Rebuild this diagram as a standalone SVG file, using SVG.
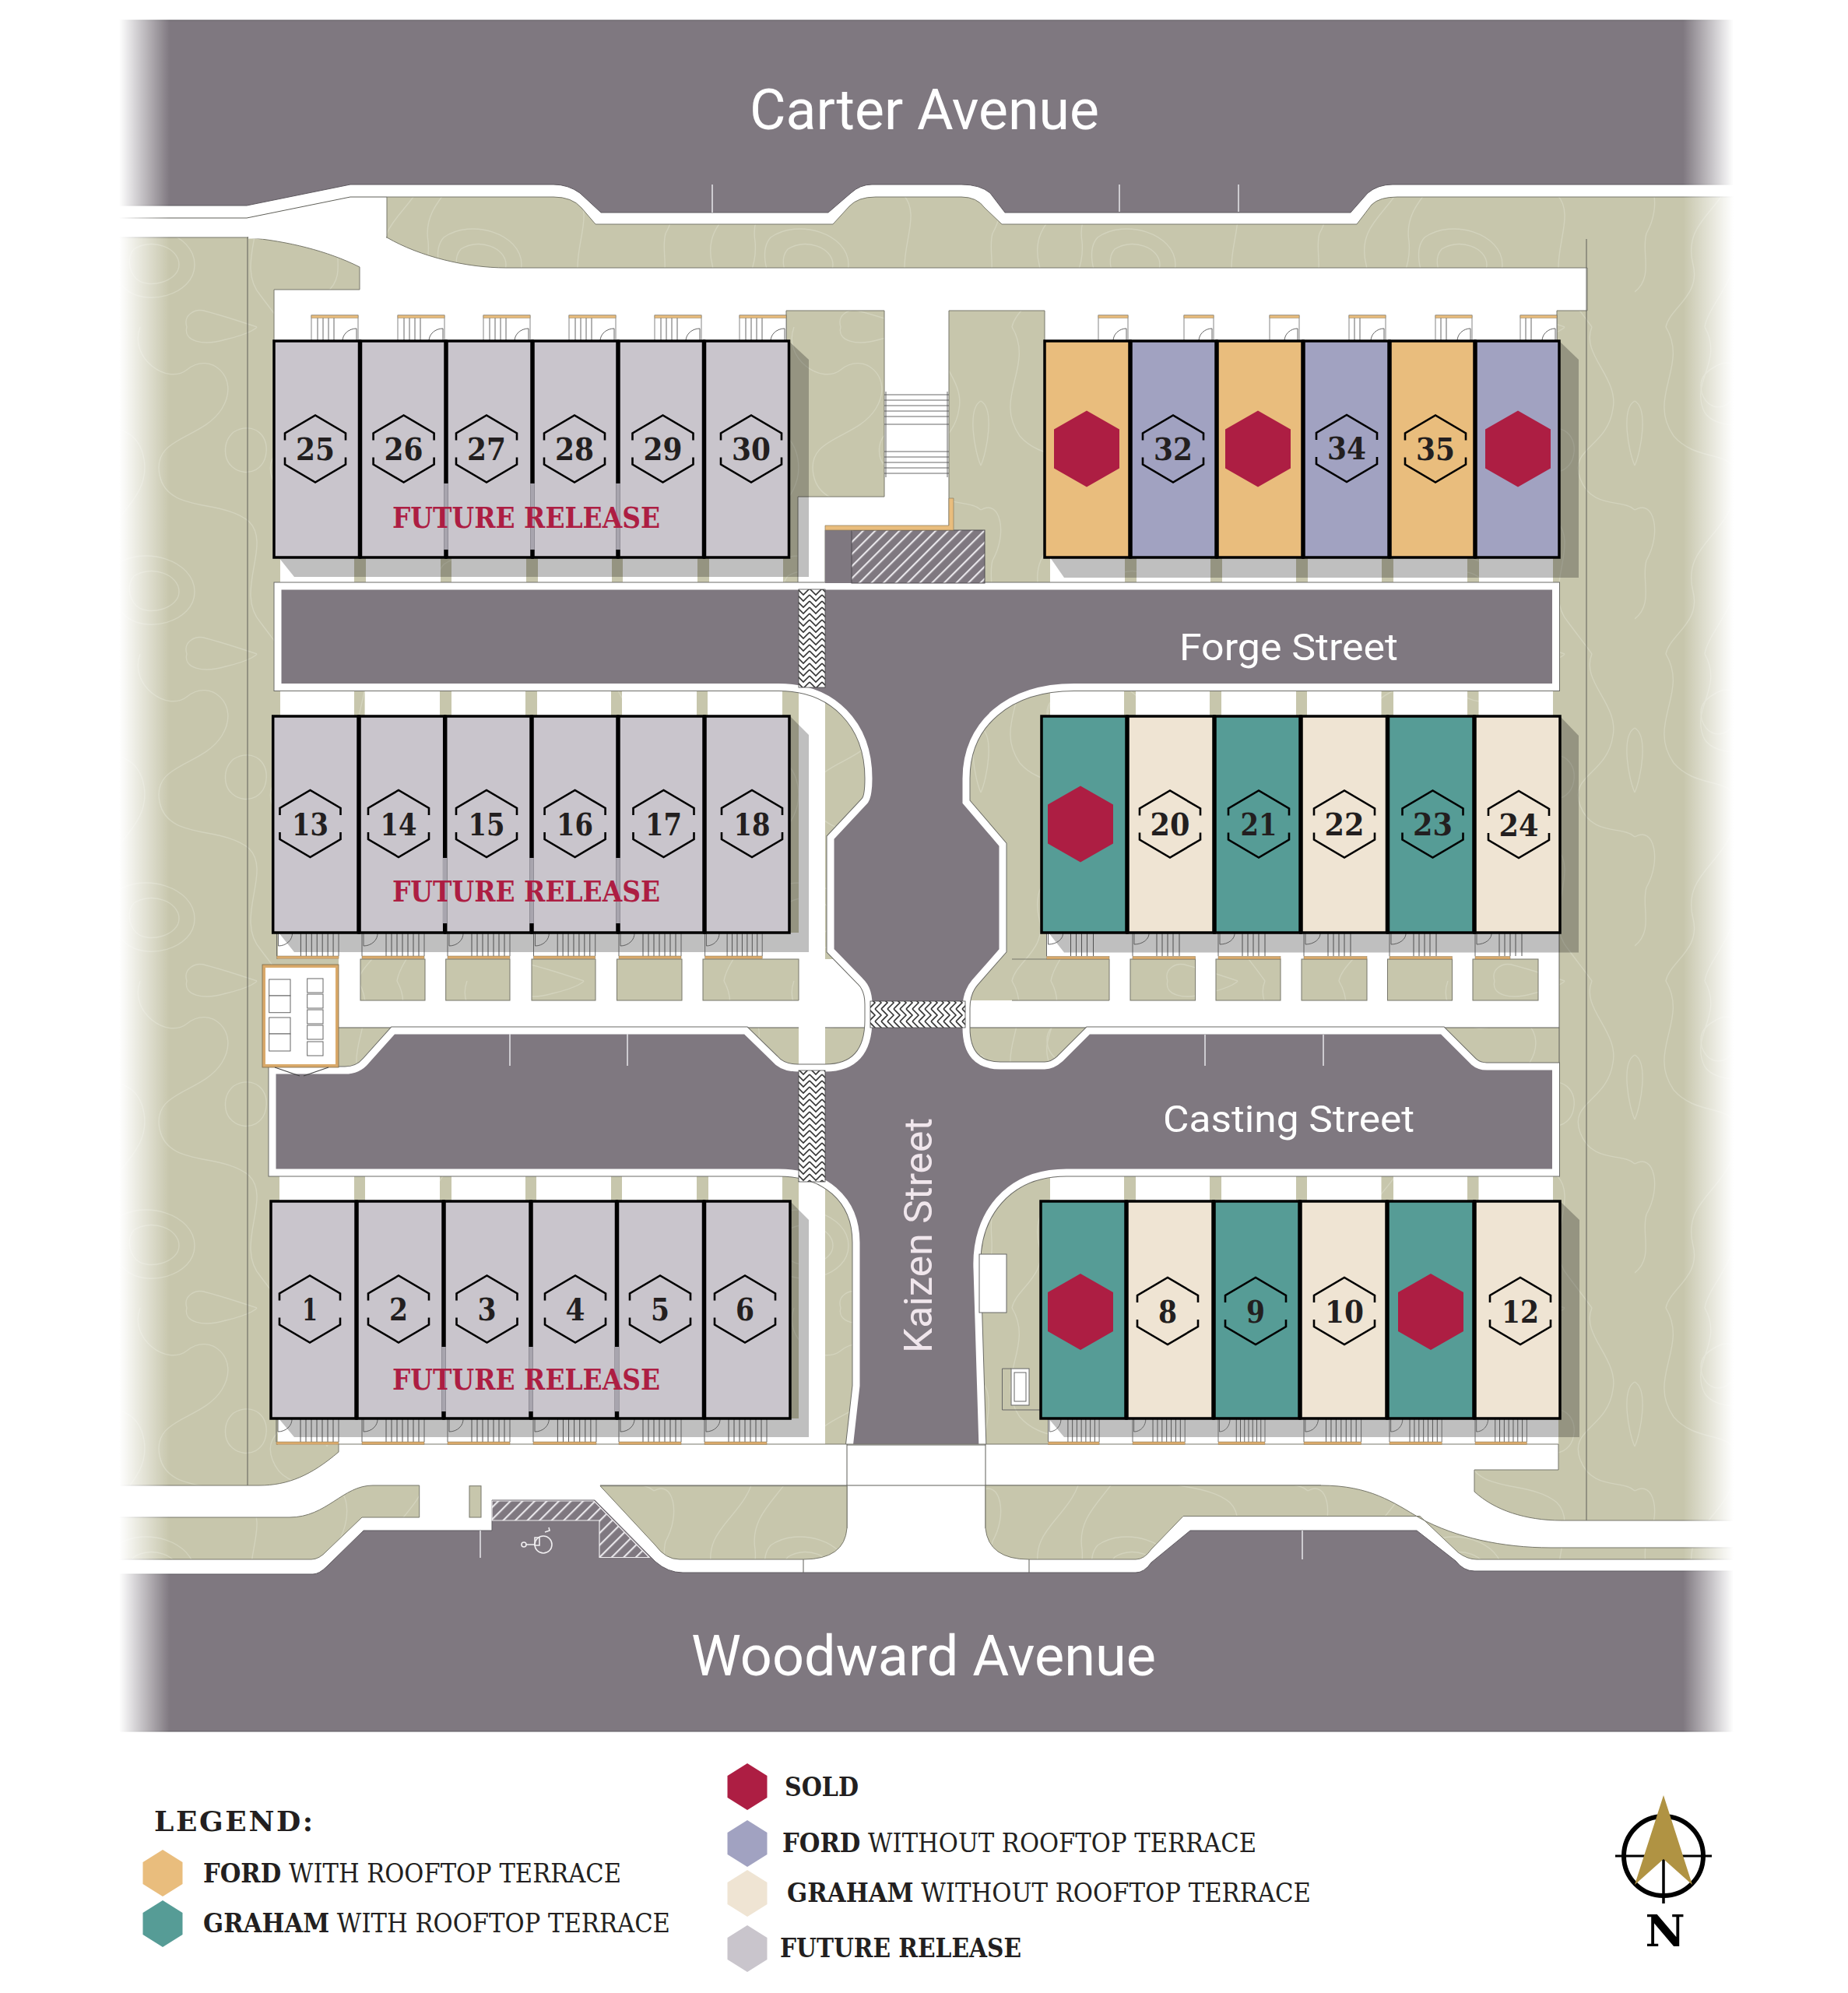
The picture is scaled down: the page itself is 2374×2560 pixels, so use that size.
<svg xmlns="http://www.w3.org/2000/svg" width="2374" height="2560" viewBox="0 0 2374 2560">
<style>
.g{fill:url(#topo);stroke:#77776a;stroke-width:1}
.w{fill:#fff;stroke:none}
.wl{fill:#fff;stroke:#77776a;stroke-width:1}
.thin{fill:none;stroke:#5f5f58;stroke-width:1}
.tick{stroke:#e8e6ea;stroke-width:1.5;fill:none}
.road{fill:#7f7880}
.sh{fill:#000;opacity:.25}
.u{stroke:#000;stroke-width:3.5}
.fu{fill:#c9c5cc}.or{fill:#e9bd7d}.la{fill:#a1a2c1}.te{fill:#569c96}.cr{fill:#efe4d3}
.hx{fill:none;stroke:#000;stroke-width:2.6}
.sold{fill:#ad1e43}
.n{font-family:"DejaVu Serif",serif;font-weight:700;font-size:39px;fill:#231f20;text-anchor:middle}
.fr{font-family:"DejaVu Serif",serif;font-weight:700;font-size:37px;fill:#ad1e43}
.st{font-family:Roboto,"Liberation Sans",sans-serif;fill:#fff}
.lg{font-family:"DejaVu Serif",serif;font-size:34px;fill:#231f20}
.lg tspan{font-weight:700}
.div{fill:#a8a5ae}
</style>
<defs>
<pattern id="topo" patternUnits="userSpaceOnUse" width="420" height="420">
<rect width="420" height="420" fill="#c7c6ac"/>
<g fill="none" stroke="#d3d3bd" stroke-width="1.4">
<path d="M40,0C70,50 15,90 50,140C85,180 140,150 130,210C120,270 60,280 75,340C85,380 45,395 40,420"/>
<path d="M90,0C115,45 70,70 90,110C110,140 175,110 185,170C195,230 120,250 130,310C135,360 95,390 90,420"/>
<path d="M180,0C165,40 215,75 240,55C270,30 310,65 285,105C260,145 195,140 205,190C215,240 285,220 320,250C350,280 300,340 335,380C350,400 358,410 365,420"/>
<path d="M365,0C350,35 400,65 392,105C385,155 335,155 350,195C365,235 405,220 420,235"/>
<path d="M0,235C25,220 35,265 15,300C8,325 25,355 0,375"/>
<path d="M105,50C130,35 145,65 128,90C110,115 85,100 85,75C85,62 95,55 105,50Z"/>
<path d="M150,305C185,280 250,300 250,340C250,380 185,395 160,370C140,352 138,318 150,305Z"/>
<path d="M172,320C195,305 230,318 230,340C230,362 190,372 175,358C165,348 163,330 172,320Z"/>
<path d="M240,0C235,18 260,25 290,16C325,8 330,0 330,0"/>
<path d="M240,420C235,405 250,395 265,400C285,405 300,410 330,420"/>
<path d="M0,95C18,105 8,160 0,178"/>
<path d="M420,95C402,105 412,160 420,178"/>
<path d="M300,135C325,120 350,140 340,170C330,195 295,190 290,165C288,152 292,142 300,135Z"/>
</g>
</pattern>
<pattern id="hatch" patternUnits="userSpaceOnUse" width="11" height="11" patternTransform="rotate(45)">
<rect width="11" height="11" fill="#7f7880"/><rect width="2.2" height="11" fill="#e8e6ea"/>
</pattern>
<pattern id="hb" patternUnits="userSpaceOnUse" width="16" height="16">
<rect width="16" height="16" fill="#fff"/>
<path d="M0,4L8,12L16,4M0,12L8,20L16,12M0,-4L8,4L16,-4" fill="none" stroke="#333" stroke-width="1.6"/>
</pattern>
<pattern id="hb2" patternUnits="userSpaceOnUse" width="16" height="16">
<rect width="16" height="16" fill="#fff"/>
<path d="M4,0L12,8L4,16M12,0L20,8L12,16M-4,0L4,8L-4,16" fill="none" stroke="#333" stroke-width="1.6"/>
</pattern>
<linearGradient id="fl"><stop offset="0" stop-color="#fff"/><stop offset=".1" stop-color="#fff"/><stop offset=".5" stop-color="#fff" stop-opacity=".55"/><stop offset="1" stop-color="#fff" stop-opacity="0"/></linearGradient>
<linearGradient id="fr"><stop offset="0" stop-color="#fff" stop-opacity="0"/><stop offset=".5" stop-color="#fff" stop-opacity=".55"/><stop offset=".9" stop-color="#fff"/><stop offset="1" stop-color="#fff"/></linearGradient>
<g id="hex"><path class="hx" d="M-39,-11V-20L0,-43L39,-20V-11M-39,11V20L0,43L39,20V11"/></g>
<polygon id="hs" class="sold" points="0,-49 42,-25 42,25 0,49 -42,25 -42,-25"/>
<polygon id="lh" points="0,-30 25.5,-14 25.5,14 0,30 -25.5,14 -25.5,-14"/>
<g id="dt">
<rect width="60" height="33" fill="#fff" stroke="#666" stroke-width=".8"/>
<rect width="60" height="3.5" fill="#e9bd7d" stroke="#8a7a5a" stroke-width=".5"/>
<path d="M8,3.5V33M15,3.5V33M22,3.5V33M29,3.5V33M58,33V17A18,16 0 0 0 40,33" fill="none" stroke="#555" stroke-width=".9"/>
</g>
<g id="ds">
<rect width="38" height="33" fill="#fff" stroke="#666" stroke-width=".8"/>
<rect width="38" height="3.5" fill="#e9bd7d" stroke="#8a7a5a" stroke-width=".5"/>
<path d="M36,33V17A17,16 0 0 0 19,33" fill="none" stroke="#555" stroke-width=".9"/>
</g>
<g id="dm">
<rect width="47" height="33" fill="#fff" stroke="#666" stroke-width=".8"/>
<rect width="47" height="3.5" fill="#e9bd7d" stroke="#8a7a5a" stroke-width=".5"/>
<path d="M7,3.5V33M14,3.5V33M45,33V17A17,16 0 0 0 28,33" fill="none" stroke="#555" stroke-width=".9"/>
</g>
<g id="db">
<path d="M0,0V30M80,0V30M2,0V17A18,16 0 0 0 20,0" fill="none" stroke="#555" stroke-width=".9"/>
<path d="M31,0V30M38,0V30M45,0V30M52,0V30M59,0V30M66,0V30M73,0V30" fill="none" stroke="#444" stroke-width=".9"/>
<rect y="30" width="80" height="3.5" fill="#d9a96a" stroke="#8a7a5a" stroke-width=".5"/>
</g>
<g id="dr">
<path d="M0,0V30M2,0V15A19,14 0 0 0 21,0" fill="none" stroke="#555" stroke-width=".9"/>
<path d="M31,0V30M38,0V30M45,0V30M52,0V30M60,0V30" fill="none" stroke="#444" stroke-width=".9"/>
</g>
</defs>

<rect width="2374" height="2560" fill="#fff"/>

<g id="site-ground">
<rect x="150" y="253" width="2078" height="1760" fill="url(#topo)"/>
<path class="wl" d="M150,200H2228V253H1795Q1772,253 1762,263L1743,288H1287L1265,267Q1255,253 1235,253H1125Q1102,253 1091,265L1070,288H765L747,267Q735,253 711,253H497V305H150Z"/>
<path class="thin" d="M150,280H317L450,253H497"/>
<path class="wl" d="M318,305H497C540,330 600,344 650,344H2039V399H2000V716H1342V399H1219V681H1060V749H1025V638H1136V399H1010V716H352V372H462V343C420,322 370,310 318,305Z"/>
<path d="M319,305H496" stroke="#fff" stroke-width="3" fill="none"/>
<path class="thin" d="M318,305V1908M2038,307V1953"/>
</g>

<g id="walks">
<g class="w">
<rect x="360" y="716" width="95" height="34"/><rect x="470" y="716" width="96" height="34"/><rect x="580" y="716" width="96" height="34"/><rect x="691" y="716" width="95" height="34"/><rect x="800" y="716" width="96" height="34"/><rect x="911" y="716" width="95" height="34"/>
<rect x="1349" y="716" width="96" height="34"/><rect x="1460" y="716" width="95" height="34"/><rect x="1570" y="716" width="95" height="34"/><rect x="1680" y="716" width="95" height="34"/><rect x="1790" y="716" width="95" height="34"/><rect x="1900" y="716" width="95" height="34"/>
<rect x="360" y="880" width="95" height="40"/><rect x="468.6" y="880" width="96.4" height="40"/><rect x="580" y="880" width="95" height="40"/><rect x="690" y="880" width="95" height="40"/><rect x="799" y="880" width="96" height="40"/><rect x="909" y="880" width="96" height="40"/>
<rect x="1349" y="880" width="95" height="40"/><rect x="1459" y="880" width="95" height="40"/><rect x="1569" y="880" width="96" height="40"/><rect x="1679" y="880" width="95.5" height="40"/><rect x="1790" y="880" width="95" height="40"/><rect x="1899.5" y="880" width="95.5" height="40"/>
<rect x="359" y="1505" width="96" height="40"/><rect x="469" y="1505" width="96" height="40"/><rect x="580" y="1505" width="95" height="40"/><rect x="689" y="1505" width="96" height="40"/><rect x="799" y="1505" width="96" height="40"/><rect x="910" y="1505" width="95" height="40"/>
<rect x="1349" y="1505" width="95" height="40"/><rect x="1459" y="1505" width="95" height="40"/><rect x="1569" y="1505" width="96" height="40"/><rect x="1679" y="1505" width="95.5" height="40"/><rect x="1790" y="1505" width="95" height="40"/><rect x="1899.5" y="1505" width="95.5" height="40"/>
<rect x="1026" y="749" width="34" height="1110"/>
<rect x="357" y="1198" width="703" height="34"/>
<rect x="435" y="1232" width="680" height="88"/>
<rect x="1344" y="1198" width="659" height="122"/>
<rect x="1240" y="1285" width="110" height="35"/>
<rect x="357" y="1822" width="703" height="34"/>
<rect x="1346" y="1822" width="656" height="34"/>
</g>
<g class="g">
<rect x="463" y="1232" width="83" height="53"/><rect x="572.7" y="1232" width="82.3" height="53"/><rect x="683" y="1232" width="82" height="53"/><rect x="792.5" y="1232" width="83.5" height="53"/><rect x="903" y="1232" width="123" height="53"/>
<path d="M1300,1232H1425V1285H1300" /><rect x="1452" y="1232" width="83.6" height="53"/><rect x="1562" y="1232" width="83" height="53"/><rect x="1672" y="1232" width="84" height="53"/><rect x="1782.5" y="1232" width="83" height="53"/><rect x="1892" y="1232" width="84" height="53"/>
</g>
<rect x="1026" y="1285" width="34" height="35" fill="#fff"/>
<path class="thin" d="M435,1320H1026M1060,1320H1115M1240,1320H2003V1365M2003,1320V1198"/>
</g>

<g id="roads">
<path id="roadnet" d="M357,753H1998.5V882.5H1380C1295,882.5 1241,930 1241,1000V1030L1288,1085V1221L1252,1262Q1241,1275 1241,1295V1320Q1241,1369 1285,1369H1342Q1352,1369 1362,1360L1398,1324H1853L1893,1364Q1900,1370 1910,1370H1998.5V1506H1370C1295,1506 1252,1560 1255,1630L1262,1860H1091L1100,1780V1596C1100,1540 1060,1506 1000,1506H350V1375H443Q460,1375 470,1363L505,1324H958L995,1360Q1005,1372 1025,1372H1060Q1116,1372 1116,1310V1290Q1116,1270 1105,1260L1067,1221V1076L1110,1030Q1116,1025 1116,1000C1116,930 1070,882.5 1000,882.5H357Z" fill="none" stroke="#6b6b66" stroke-width="11"/>
<path d="M357,753H1998.5V882.5H1380C1295,882.5 1241,930 1241,1000V1030L1288,1085V1221L1252,1262Q1241,1275 1241,1295V1320Q1241,1369 1285,1369H1342Q1352,1369 1362,1360L1398,1324H1853L1893,1364Q1900,1370 1910,1370H1998.5V1506H1370C1295,1506 1252,1560 1255,1630L1262,1860H1091L1100,1780V1596C1100,1540 1060,1506 1000,1506H350V1375H443Q460,1375 470,1363L505,1324H958L995,1360Q1005,1372 1025,1372H1060Q1116,1372 1116,1310V1290Q1116,1270 1105,1260L1067,1221V1076L1110,1030Q1116,1025 1116,1000C1116,930 1070,882.5 1000,882.5H357Z" class="road" stroke="#fff" stroke-width="9"/>
<rect x="1026" y="757" width="34" height="126" fill="url(#hb)" stroke="#444" stroke-width=".8"/>
<rect x="1026" y="1375" width="34" height="143" fill="url(#hb)" stroke="#444" stroke-width=".8"/>
<rect x="1118" y="1286" width="122" height="34" fill="url(#hb2)" stroke="#444" stroke-width=".8"/>
<path class="wl" d="M435,1855H2002V1888H1894V1916C1920,1940 1960,1953 2006,1953H2228V2030H150V1908H333C370,1908 400,1895 435,1865Z"/>
<path class="thin" d="M1088,1855V1963M1266,1855V1963M771,1908H1697M1088,1856H1266M1032,2003V2022M1322,2003V2022"/>
<g class="g">
<path d="M150,1949H372C420,1949 440,1908 479,1908H538.7V1949H465L420,1992Q410,2003 400,2003H150Z"/>
<rect x="603" y="1908.7" width="15" height="40.3"/>
<path d="M771,1908.7H1088V1963Q1085,2003 1032,2003H873Q855,2003 842,1985Z"/>
<path d="M1266,1908H1697C1760,1908 1790,1930 1824,1950C1870,1975 1930,1988 1992,1988H2228V2003H1897Q1885,2003 1873,1994L1824,1947.5H1520L1479,1990Q1470,2003 1459,2003H1322Q1270,2003 1266,1963Z"/>
</g>
<path class="road" stroke="#5f5a60" stroke-width="1" d="M150,26H2228V237H1789Q1770,237 1757,248L1735,273H1291L1272,248Q1259,237 1235,237H1120Q1105,237 1093,248L1064,273H772L745,248Q730,237 711,237H450L317,264H150Z"/>
<path class="road" stroke="#5f5a60" stroke-width="1" d="M150,2224H2228V2018H1894Q1880,2018 1870,2005L1820,1966H1529L1479,2007Q1470,2020 1459,2020H877Q858,2020 842,2006L764,1927H632V1966H467L420,2012Q410,2022 402,2022H150Z"/>
<path d="M632,1928H763L834,2000.5H770V1953H632Z" fill="url(#hatch)" stroke="#f0eef0" stroke-width="1.2"/>
<path class="tick" d="M915,237V273M1438,237V272M1591,237V272M1673,1966V2003M617,1966V2001M655,1328V1369M806,1328V1369M1548,1329V1369M1700,1329V1369"/>
<g id="accessible-symbol" fill="none" stroke="#f0eef0" stroke-width="1.6"><circle cx="698" cy="1984" r="11"/><circle cx="673" cy="1984" r="3"/><path d="M676,1984H687M687,1975h6v10h-6zM700,1968L706,1966L705,1962"/></g>
</g>

<g id="stair-court">
<rect x="1060" y="681" width="34" height="68" fill="#7f7880"/>
<rect x="1094" y="681" width="171" height="68" fill="url(#hatch)" stroke="#4f4b50" stroke-width="1"/>
<polygon points="1060,675 1219,675 1219,640 1225,640 1225,681 1060,681" fill="#e9bd7d" stroke="#8a7a5a" stroke-width=".7"/>
<path d="M1138,503V613M1217,503V613M1136,507H1219M1136,514H1219M1136,521H1219M1136,528H1219M1136,535H1219M1136,545H1219M1136,580H1219M1136,587H1219M1136,594H1219M1136,601H1219M1136,608H1219" fill="none" stroke="#555" stroke-width=".9"/>
</g>

<g id="shadows" class="sh">
<polygon points="1013,438 1039,462 1039,741 378,741 358,716"/>
<polygon points="2003,438 2028,462 2028,742 1367,742 1349,716"/>
<polygon points="1015,920 1039,944 1039,1223 378,1223 358,1198"/>
<polygon points="2004,920 2028,945 2028,1223.5 1367,1223.5 1347,1198"/>
<polygon points="1015,1543 1039,1567 1039,1846 378,1846 358,1822"/>
<polygon points="2004,1543 2029,1567 2029,1846 1367,1846 1347,1822"/>
</g>

<g id="decks">
<use href="#dt" x="400" y="405"/><use href="#dt" x="511" y="405"/><use href="#dt" x="621" y="405"/><use href="#dt" x="731" y="405"/><use href="#dt" x="841" y="405"/><use href="#dt" x="950" y="405"/>
<use href="#ds" x="1411" y="405"/><use href="#ds" x="1521" y="405"/><use href="#ds" x="1631" y="405"/><use href="#dm" x="1733" y="405"/><use href="#dm" x="1844" y="405"/><use href="#dm" x="1953" y="405"/>
<use href="#db" transform="translate(355.6,1198)scale(.993,1)"/><use href="#db" transform="translate(465,1198)"/><use href="#db" transform="translate(575,1198)"/><use href="#db" transform="translate(685.5,1198)scale(.99,1)"/><use href="#db" transform="translate(795,1198)"/><use href="#db" transform="translate(905.6,1198)scale(.92,1)"/>
<use href="#dr" x="1344.5" y="1198"/><use href="#dr" x="1455" y="1198"/><use href="#dr" x="1565" y="1198"/><use href="#dr" x="1675" y="1198"/><use href="#dr" x="1785" y="1198"/><use href="#dr" x="1895" y="1198"/>
<g fill="#d9a96a" stroke="#8a7a5a" stroke-width=".5"><rect x="1344.5" y="1228.5" width="80.5" height="3.5"/><rect x="1455" y="1228.5" width="80.6" height="3.5"/><rect x="1565" y="1228.5" width="80" height="3.5"/><rect x="1675" y="1228.5" width="81" height="3.5"/><rect x="1785" y="1228.5" width="80.5" height="3.5"/><rect x="1895" y="1228.5" width="45" height="3.5"/></g>
<use href="#db" transform="translate(355,1822)"/><use href="#db" transform="translate(465,1822)"/><use href="#db" transform="translate(575,1822)"/><use href="#db" transform="translate(685,1822)scale(1.012,1)"/><use href="#db" transform="translate(795,1822)"/><use href="#db" transform="translate(905,1822)"/>
<use href="#db" transform="translate(1346.5,1822)scale(.82,1)"/><use href="#db" transform="translate(1455,1822)scale(.84,1)"/><use href="#db" transform="translate(1565,1822)scale(.75,1)"/><use href="#db" transform="translate(1675,1822)scale(.92,1)"/><use href="#db" transform="translate(1785,1822)scale(.84,1)"/><use href="#db" transform="translate(1895,1822)scale(.83,1)"/>
</g>

<g id="trash-enclosure">
<rect x="339" y="1241" width="94" height="128" fill="#fff" stroke="#d9a96a" stroke-width="4"/>
<rect x="337" y="1239" width="98" height="132" fill="none" stroke="#7a6a4a" stroke-width=".8"/>
<path d="M353,1371L385,1382M422,1371L390,1382" stroke="#444" stroke-width="1.2" fill="none"/>
<g fill="#fff" stroke="#666" stroke-width="1"><rect x="345.7" y="1258" width="27.3" height="21"/><rect x="345.7" y="1279" width="27.3" height="21.7"/><rect x="345.7" y="1307" width="27.3" height="21"/><rect x="345.7" y="1328" width="27.3" height="22"/>
<rect x="394.7" y="1257" width="20.3" height="18"/><rect x="394.7" y="1277" width="20.3" height="18"/><rect x="394.7" y="1297" width="20.3" height="18"/><rect x="394.7" y="1317" width="20.3" height="18"/><rect x="394.7" y="1338" width="20.3" height="18"/></g>
</g>

<g id="utility-pads" fill="#fff" stroke="#666" stroke-width="1">
<rect x="1258" y="1611" width="35" height="75"/>
<path d="M1336,1811H1287.5V1758H1299" fill="none"/>
<rect x="1299" y="1758" width="23" height="47"/><rect x="1303" y="1763" width="15" height="37"/>
</g>

<g id="units">
<g id="unit-25"><rect class="u fu" x="352" y="438" width="110.5" height="278"/><use href="#hex" x="405" y="576.5"/><text class="n" x="405" y="591" textLength="50" lengthAdjust="spacingAndGlyphs">25</text></g>
<g id="unit-26"><rect class="u fu" x="462.5" y="438" width="110.5" height="278"/><use href="#hex" x="518.6" y="576.5"/><text class="n" x="518.6" y="591" textLength="50" lengthAdjust="spacingAndGlyphs">26</text></g>
<g id="unit-27"><rect class="u fu" x="573" y="438" width="111" height="278"/><use href="#hex" x="625" y="576.5"/><text class="n" x="625" y="591" textLength="50" lengthAdjust="spacingAndGlyphs">27</text></g>
<g id="unit-28"><rect class="u fu" x="684" y="438" width="110" height="278"/><use href="#hex" x="738" y="576.5"/><text class="n" x="738" y="591" textLength="50" lengthAdjust="spacingAndGlyphs">28</text></g>
<g id="unit-29"><rect class="u fu" x="794" y="438" width="110.5" height="278"/><use href="#hex" x="851.5" y="576.5"/><text class="n" x="851.5" y="591" textLength="50" lengthAdjust="spacingAndGlyphs">29</text></g>
<g id="unit-30"><rect class="u fu" x="904.5" y="438" width="109" height="278"/><use href="#hex" x="965" y="576.5"/><text class="n" x="965" y="591" textLength="50" lengthAdjust="spacingAndGlyphs">30</text></g>

<g id="unit-31"><rect class="u or" x="1342" y="438" width="110" height="278"/><use href="#hs" x="1396" y="576.5"/></g>
<g id="unit-32"><rect class="u la" x="1452" y="438" width="111" height="278"/><use href="#hex" x="1507" y="576.5"/><text class="n" x="1507" y="591" textLength="50" lengthAdjust="spacingAndGlyphs">32</text></g>
<g id="unit-33"><rect class="u or" x="1563" y="438" width="111" height="278"/><use href="#hs" x="1616" y="576.5"/></g>
<g id="unit-34"><rect class="u la" x="1674" y="438" width="111" height="278"/><use href="#hex" x="1730" y="576"/><text class="n" x="1730" y="590" textLength="50" lengthAdjust="spacingAndGlyphs">34</text></g>
<g id="unit-35"><rect class="u or" x="1785" y="438" width="110" height="278"/><use href="#hex" x="1844" y="576.5"/><text class="n" x="1844" y="591" textLength="50" lengthAdjust="spacingAndGlyphs">35</text></g>
<g id="unit-36"><rect class="u la" x="1895" y="438" width="108" height="278"/><use href="#hs" x="1950" y="576.5"/></g>

<g id="unit-13"><rect class="u fu" x="350.7" y="920" width="110.3" height="278"/><use href="#hex" x="398.5" y="1058"/><text class="n" x="398.5" y="1072.5" textLength="47" lengthAdjust="spacingAndGlyphs">13</text></g>
<g id="unit-14"><rect class="u fu" x="461" y="920" width="110.7" height="278"/><use href="#hex" x="512" y="1058"/><text class="n" x="512" y="1072.5" textLength="47" lengthAdjust="spacingAndGlyphs">14</text></g>
<g id="unit-15"><rect class="u fu" x="571.7" y="920" width="111.3" height="278"/><use href="#hex" x="625" y="1058"/><text class="n" x="625" y="1072.5" textLength="47" lengthAdjust="spacingAndGlyphs">15</text></g>
<g id="unit-16"><rect class="u fu" x="683" y="920" width="111" height="278"/><use href="#hex" x="738.6" y="1058"/><text class="n" x="738.6" y="1072.5" textLength="47" lengthAdjust="spacingAndGlyphs">16</text></g>
<g id="unit-17"><rect class="u fu" x="794" y="920" width="111" height="278"/><use href="#hex" x="852.5" y="1058"/><text class="n" x="852.5" y="1072.5" textLength="47" lengthAdjust="spacingAndGlyphs">17</text></g>
<g id="unit-18"><rect class="u fu" x="905" y="920" width="109" height="278"/><use href="#hex" x="966" y="1058"/><text class="n" x="966" y="1072.5" textLength="47" lengthAdjust="spacingAndGlyphs">18</text></g>

<g id="unit-19"><rect class="u te" x="1338" y="920" width="110" height="278"/><use href="#hs" x="1388" y="1058.5"/></g>
<g id="unit-20"><rect class="u cr" x="1448" y="920" width="112" height="278"/><use href="#hex" x="1503" y="1058.5"/><text class="n" x="1503" y="1073" textLength="51" lengthAdjust="spacingAndGlyphs">20</text></g>
<g id="unit-21"><rect class="u te" x="1560" y="920" width="111" height="278"/><use href="#hex" x="1617" y="1058.5"/><text class="n" x="1617" y="1073" textLength="47" lengthAdjust="spacingAndGlyphs">21</text></g>
<g id="unit-22"><rect class="u cr" x="1671" y="920" width="111.5" height="278"/><use href="#hex" x="1727" y="1058.5"/><text class="n" x="1727" y="1073" textLength="51" lengthAdjust="spacingAndGlyphs">22</text></g>
<g id="unit-23"><rect class="u te" x="1782.5" y="920" width="111.5" height="278"/><use href="#hex" x="1840.5" y="1058.5"/><text class="n" x="1840.5" y="1073" textLength="51" lengthAdjust="spacingAndGlyphs">23</text></g>
<g id="unit-24"><rect class="u cr" x="1894" y="920" width="110" height="278"/><use href="#hex" x="1951" y="1059"/><text class="n" x="1951" y="1073.5" textLength="51" lengthAdjust="spacingAndGlyphs">24</text></g>

<g id="unit-1"><rect class="u fu" x="348" y="1543" width="110" height="279"/><use href="#hex" x="398" y="1681.5"/><text class="n" x="398" y="1696" textLength="20" lengthAdjust="spacingAndGlyphs">1</text></g>
<g id="unit-2"><rect class="u fu" x="458" y="1543" width="112" height="279"/><use href="#hex" x="512" y="1681.5"/><text class="n" x="512" y="1696" textLength="24" lengthAdjust="spacingAndGlyphs">2</text></g>
<g id="unit-3"><rect class="u fu" x="570" y="1543" width="112" height="279"/><use href="#hex" x="625.5" y="1681.5"/><text class="n" x="625.5" y="1696" textLength="24" lengthAdjust="spacingAndGlyphs">3</text></g>
<g id="unit-4"><rect class="u fu" x="682" y="1543" width="110.5" height="279"/><use href="#hex" x="739" y="1681.5"/><text class="n" x="739" y="1696" textLength="25" lengthAdjust="spacingAndGlyphs">4</text></g>
<g id="unit-5"><rect class="u fu" x="792.5" y="1543" width="112" height="279"/><use href="#hex" x="848" y="1681.5"/><text class="n" x="848" y="1696" textLength="24" lengthAdjust="spacingAndGlyphs">5</text></g>
<g id="unit-6"><rect class="u fu" x="904.5" y="1543" width="110.5" height="279"/><use href="#hex" x="957" y="1681.5"/><text class="n" x="957" y="1696" textLength="24" lengthAdjust="spacingAndGlyphs">6</text></g>

<g id="unit-7"><rect class="u te" x="1337" y="1543" width="110" height="279"/><use href="#hs" x="1388" y="1685"/></g>
<g id="unit-8"><rect class="u cr" x="1447" y="1543" width="112" height="279"/><use href="#hex" x="1500" y="1684"/><text class="n" x="1500" y="1698.5" textLength="24" lengthAdjust="spacingAndGlyphs">8</text></g>
<g id="unit-9"><rect class="u te" x="1559" y="1543" width="111" height="279"/><use href="#hex" x="1613" y="1684"/><text class="n" x="1613" y="1698.5" textLength="24" lengthAdjust="spacingAndGlyphs">9</text></g>
<g id="unit-10"><rect class="u cr" x="1670" y="1543" width="112" height="279"/><use href="#hex" x="1727" y="1684"/><text class="n" x="1727" y="1698.5" textLength="50" lengthAdjust="spacingAndGlyphs">10</text></g>
<g id="unit-11"><rect class="u te" x="1782" y="1543" width="112" height="279"/><use href="#hs" x="1838" y="1685"/></g>
<g id="unit-12"><rect class="u cr" x="1894" y="1543" width="110" height="279"/><use href="#hex" x="1953" y="1684"/><text class="n" x="1953" y="1698.5" textLength="48" lengthAdjust="spacingAndGlyphs">12</text></g>
</g>

<g id="party-walls">
<path stroke="#000" stroke-width="5.5" fill="none" d="M462.5,438V716M573,438V716M684,438V716M794,438V716M904.5,438V716M1452,438V716M1563,438V716M1674,438V716M1785,438V716M1895,438V716M461,920V1198M571.7,920V1198M683,920V1198M794,920V1198M905,920V1198M1448,920V1198M1560,920V1198M1671,920V1198M1782.5,920V1198M1894,920V1198M458,1543V1822M570,1543V1822M682,1543V1822M792.5,1543V1822M904.5,1543V1822M1447,1543V1822M1559,1543V1822M1670,1543V1822M1782,1543V1822M1894,1543V1822"/>
</g>

<g id="future-release-labels">
<g class="div">
<rect x="570.2" y="621" width="5.6" height="85"/><rect x="681.2" y="621" width="5.6" height="85"/><rect x="791.2" y="621" width="5.6" height="85"/>
<rect x="568.9" y="1102" width="5.6" height="84"/><rect x="680.2" y="1102" width="5.6" height="84"/><rect x="791.2" y="1102" width="5.6" height="84"/>
<rect x="567.2" y="1730" width="5.6" height="83"/><rect x="679.2" y="1730" width="5.6" height="83"/><rect x="789.7" y="1730" width="5.6" height="83"/>
</g>
<text class="fr" x="504" y="678" textLength="344" lengthAdjust="spacingAndGlyphs">FUTURE RELEASE</text>
<text class="fr" x="504" y="1158" textLength="344" lengthAdjust="spacingAndGlyphs">FUTURE RELEASE</text>
<text class="fr" x="504" y="1785" textLength="344" lengthAdjust="spacingAndGlyphs">FUTURE RELEASE</text>
</g>

<g id="street-labels">
<text class="st" x="963" y="165.5" font-size="72" textLength="449" lengthAdjust="spacingAndGlyphs">Carter Avenue</text>
<text class="st" x="888" y="2152" font-size="72" textLength="597" lengthAdjust="spacingAndGlyphs">Woodward Avenue</text>
<text class="st" x="1515" y="848" font-size="48" textLength="281" lengthAdjust="spacingAndGlyphs">Forge Street</text>
<text class="st" x="1494" y="1453.5" font-size="48" textLength="323" lengthAdjust="spacingAndGlyphs">Casting Street</text>
<text class="st" font-size="50" textLength="302" lengthAdjust="spacingAndGlyphs" style="fill:#f0e6ec" transform="translate(1197,1738) rotate(-90)">Kaizen Street</text>
</g>

<g id="edge-fades">
<rect x="146" y="0" width="72" height="2240" fill="url(#fl)"/>
<rect x="2162" y="0" width="72" height="2240" fill="url(#fr)"/>
</g>

<g id="legend">
<text x="198" y="2352" font-family="DejaVu Serif,serif" font-weight="700" font-size="36" fill="#231f20" textLength="204" lengthAdjust="spacing">LEGEND:</text>
<g id="legend-ford-terrace"><use href="#lh" x="209" y="2406" fill="#e9bd7d"/><text class="lg" x="261" y="2418" textLength="537" lengthAdjust="spacingAndGlyphs"><tspan>FORD</tspan> WITH ROOFTOP TERRACE</text></g>
<g id="legend-graham-terrace"><use href="#lh" x="209" y="2471" fill="#569c96"/><text class="lg" x="261" y="2482" textLength="600" lengthAdjust="spacingAndGlyphs"><tspan>GRAHAM</tspan> WITH ROOFTOP TERRACE</text></g>
<g id="legend-sold"><use href="#lh" x="960" y="2295" fill="#ad1e43"/><text class="lg" x="1008" y="2307" textLength="95" lengthAdjust="spacingAndGlyphs"><tspan>SOLD</tspan></text></g>
<g id="legend-ford"><use href="#lh" x="960" y="2368" fill="#a1a2c1"/><text class="lg" x="1005" y="2379" textLength="609" lengthAdjust="spacingAndGlyphs"><tspan>FORD</tspan> WITHOUT ROOFTOP TERRACE</text></g>
<g id="legend-graham"><use href="#lh" x="960" y="2432" fill="#efe4d3"/><text class="lg" x="1011" y="2443" textLength="673" lengthAdjust="spacingAndGlyphs"><tspan>GRAHAM</tspan> WITHOUT ROOFTOP TERRACE</text></g>
<g id="legend-future"><use href="#lh" x="960" y="2503" fill="#c9c5cc"/><text class="lg" x="1002" y="2514" textLength="310" lengthAdjust="spacingAndGlyphs"><tspan>FUTURE RELEASE</tspan></text></g>
</g>

<g id="north-arrow">
<circle cx="2137" cy="2384" r="51" fill="#fff" stroke="#000" stroke-width="6"/>
<path d="M2075,2384H2199M2137,2384V2445" stroke="#000" stroke-width="3" fill="none"/>
<polygon points="2137,2306 2174,2421 2137,2388 2100,2421" fill="#b09343"/>
<path d="M2137,2389V2445" stroke="#000" stroke-width="3"/>
<text x="2139" y="2500" text-anchor="middle" font-family="DejaVu Serif,serif" font-weight="700" font-size="56" fill="#000">N</text>
</g>
</svg>
